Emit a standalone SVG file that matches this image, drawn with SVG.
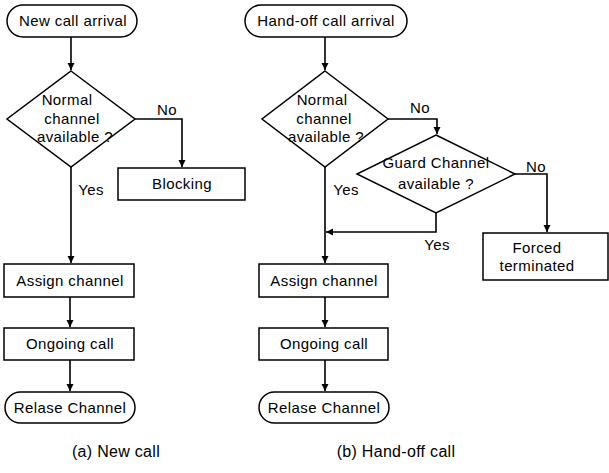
<svg xmlns="http://www.w3.org/2000/svg" width="609" height="473" viewBox="0 0 609 473">
  <style>
    .shape { fill: #fff; stroke: #000; stroke-width: 1.5; }
    .lbl { font-family: "Liberation Sans", Arial, sans-serif; font-size: 15px; letter-spacing: 0.4px; fill: #000; text-anchor: middle; }
    .cap { font-family: "Liberation Sans", Arial, sans-serif; font-size: 16px; letter-spacing: 0.3px; fill: #000; text-anchor: middle; }
    .edge { fill: none; stroke: #000; stroke-width: 1.6; }
  </style>
  <defs>
    <marker id="arrow" viewBox="0 0 10 10" refX="10" refY="5" markerWidth="7" markerHeight="9" markerUnits="userSpaceOnUse" orient="auto">
      <path d="M0,0 L10,5 L0,10 z" fill="#000"/>
    </marker>
  </defs>

  <rect width="609" height="473" fill="#fff"/>

  <!-- (a) new call flow -->
  <g id="new-arrival">
    <rect class="shape" x="7" y="5" width="130" height="32" rx="16"/>
    <text class="lbl" x="73" y="26">New call arrival</text>
  </g>
  <g id="new-normal-check">
    <polygon class="shape" points="71,71 135,119 71,167 7,119"/>
    <text class="lbl" x="67" y="105">Normal</text>
    <text class="lbl" x="72" y="124">channel</text>
    <text class="lbl" x="75" y="142">available ?</text>
  </g>
  <g id="new-blocking">
    <rect class="shape" x="118" y="168" width="127" height="32"/>
    <text class="lbl" x="182" y="189">Blocking</text>
  </g>
  <g id="new-assign">
    <rect class="shape" x="4" y="264" width="130" height="33"/>
    <text class="lbl" x="70" y="286">Assign channel</text>
  </g>
  <g id="new-ongoing">
    <rect class="shape" x="4" y="328" width="130" height="32"/>
    <text class="lbl" x="70" y="349">Ongoing call</text>
  </g>
  <g id="new-release">
    <rect class="shape" x="5" y="392" width="130" height="31" rx="15.5"/>
    <text class="lbl" x="70" y="413">Relase Channel</text>
  </g>

  <!-- (b) hand-off call flow -->
  <g id="ho-arrival">
    <rect class="shape" x="245" y="5" width="162" height="32" rx="16"/>
    <text class="lbl" x="326" y="26">Hand-off call arrival</text>
  </g>
  <g id="ho-normal-check">
    <polygon class="shape" points="325,71 388,119 325,167 262,119"/>
    <text class="lbl" x="322" y="105">Normal</text>
    <text class="lbl" x="324" y="124">channel</text>
    <text class="lbl" x="326" y="142">available ?</text>
  </g>
  <g id="ho-guard-check">
    <polygon class="shape" points="436,135 515,174 436,213 357,174"/>
    <text class="lbl" x="436" y="168">Guard Channel</text>
    <text class="lbl" x="436" y="189">available ?</text>
  </g>
  <g id="ho-forced">
    <rect class="shape" x="483" y="233" width="125" height="47"/>
    <text class="lbl" x="537" y="253">Forced</text>
    <text class="lbl" x="537" y="271">terminated</text>
  </g>
  <g id="ho-assign">
    <rect class="shape" x="259" y="264" width="129" height="33"/>
    <text class="lbl" x="324" y="286">Assign channel</text>
  </g>
  <g id="ho-ongoing">
    <rect class="shape" x="259" y="328" width="129" height="32"/>
    <text class="lbl" x="324" y="349">Ongoing call</text>
  </g>
  <g id="ho-release">
    <rect class="shape" x="259" y="392" width="130" height="31" rx="15.5"/>
    <text class="lbl" x="324" y="413">Relase Channel</text>
  </g>

  <!-- connectors -->
  <g id="connectors">
    <path class="edge" d="M71,37 V70" marker-end="url(#arrow)"/>
    <path class="edge" d="M135,119 H182 V167" marker-end="url(#arrow)"/>
    <path class="edge" d="M71,167 V263" marker-end="url(#arrow)"/>
    <path class="edge" d="M70,297 V327" marker-end="url(#arrow)"/>
    <path class="edge" d="M70,360 V391" marker-end="url(#arrow)"/>

    <path class="edge" d="M325,37 V70" marker-end="url(#arrow)"/>
    <path class="edge" d="M388,119 H437 V134" marker-end="url(#arrow)"/>
    <path class="edge" d="M515,174 H547 V232" marker-end="url(#arrow)"/>
    <path class="edge" d="M325,167 V263" marker-end="url(#arrow)"/>
    <path class="edge" d="M436,213 V232 H326" marker-end="url(#arrow)"/>
    <path class="edge" d="M325,297 V327" marker-end="url(#arrow)"/>
    <path class="edge" d="M325,360 V391" marker-end="url(#arrow)"/>
  </g>

  <!-- branch labels -->
  <g id="branch-labels">
    <text class="lbl" x="167" y="115">No</text>
    <text class="lbl" x="91" y="195">Yes</text>
    <text class="lbl" x="420" y="113">No</text>
    <text class="lbl" x="346" y="195">Yes</text>
    <text class="lbl" x="536" y="172">No</text>
    <text class="lbl" x="437" y="250">Yes</text>
  </g>

  <!-- captions -->
  <text class="cap" x="116" y="457">(a) New call</text>
  <text class="cap" x="396" y="457">(b) Hand-off call</text>
</svg>
